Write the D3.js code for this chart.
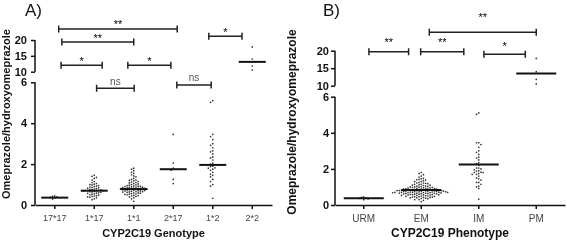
<!DOCTYPE html>
<html>
<head>
<meta charset="utf-8">
<script src="https://cdn.jsdelivr.net/npm/d3@7"></script>
<style>
  body { margin: 0; background: #fff; }
  svg { font-family: "Liberation Sans", Arial, sans-serif; will-change: transform; }
</style>
</head>
<body>
<script>
var W = 567, H = 240;

// categories
var genotypes = ["17*17", "1*17", "1*1", "2*17", "1*2", "2*2"];
var phenotypes = ["URM", "EM", "IM", "PM"];

// omeprazole/hydroxyomeprazole ratios per genotype
var g1717 = [0.45, 0.42, 0.4, 0.37, 0.34, 0.29];
var g117 = [1.45, 1.4, 1.35, 1.3, 1.22, 1.15, 1.1, 1.05, 1.02, 1.0, 0.98, 0.95, 0.92, 0.9, 0.88, 0.86,
    0.84, 0.82, 0.8, 0.78, 0.77, 0.75, 0.74, 0.72, 0.71, 0.7, 0.7, 0.69, 0.68, 0.66, 0.65, 0.64,
    0.62, 0.6, 0.58, 0.57, 0.55, 0.53, 0.5, 0.48, 0.46, 0.44, 0.42, 0.4, 0.38, 0.35, 0.3, 0.26];
var g11 = [1.8, 1.75, 1.68, 1.6, 1.55, 1.48, 1.42, 1.38, 1.3, 1.25, 1.22, 1.2, 1.18, 1.15, 1.12, 1.1,
    1.08, 1.05, 1.03, 1.0, 0.99, 0.97, 0.95, 0.94, 0.92, 0.91, 0.9, 0.89, 0.88, 0.87, 0.86, 0.85,
    0.84, 0.83, 0.82, 0.81, 0.8, 0.8, 0.79, 0.78, 0.78, 0.77, 0.76, 0.75, 0.74, 0.73, 0.72, 0.71,
    0.7, 0.69, 0.68, 0.67, 0.66, 0.65, 0.64, 0.63, 0.62, 0.6, 0.59, 0.58, 0.56, 0.55, 0.53, 0.52,
    0.5, 0.48, 0.46, 0.44, 0.42, 0.4, 0.36, 0.3, 0.18];
var g217 = [3.45, 2.05, 1.8, 1.7, 1.25, 1.05];
var g12 = [5.1, 5.02, 3.45, 3.35, 3.2, 3.0, 2.92, 2.8, 2.65, 2.6, 2.5, 2.35, 2.3, 2.2, 2.05, 2.0,
    1.95, 1.9, 1.88, 1.82, 1.8, 1.75, 1.7, 1.6, 1.5, 1.45, 1.38, 1.25, 1.15, 1.0, 0.92, 0.33];
var g22 = [17.8, 14.0, 11.8, 10.5];

var genoValues = [g1717, g117, g11, g217, g12, g22];
var phenoValues = [g1717, g117.concat(g11), g217.concat(g12), g22];

var genoMedians = [0.36, 0.70, 0.78, 1.75, 1.96, 13.1];
var phenoMedians = [0.375, 0.83, 2.24, 13.5];

// axis ticks
var loTicks = [0, 2, 4, 6];
var hiTicks = [10, 15, 20];

// significance brackets: category positions (fractional index), level, label level
var genoBrackets = [
    {a: 0.1, b: 3.1, seg: "hi", v: 23.47, lv: 25.58, t: "**"},
    {a: 0.18, b: 2.0, seg: "hi", v: 19.37, lv: 21.26, t: "**"},
    {a: 3.9, b: 4.74, seg: "hi", v: 21.17, lv: 23.15, t: "*"},
    {a: 0.16, b: 1.2, seg: "hi", v: 12.02, lv: 13.91, t: "*"},
    {a: 1.85, b: 2.94, seg: "hi", v: 12.02, lv: 13.91, t: "*"},
    {a: 1.06, b: 2.01, seg: "lo", v: 5.71, lv: 6.03, t: "ns"},
    {a: 3.09, b: 3.96, seg: "lo", v: 5.87, lv: 6.22, t: "ns"}
];
var phenoBrackets = [
    {a: 1.14, b: 3.0, seg: "hi", v: 25.26, lv: 30.3, t: "**"},
    {a: 0.09, b: 0.78, seg: "hi", v: 19.71, lv: 23.06, t: "**"},
    {a: 0.99, b: 1.74, seg: "hi", v: 19.71, lv: 23.06, t: "**"},
    {a: 2.09, b: 2.81, seg: "hi", v: 18.97, lv: 21.91, t: "*"}
];

var svg = d3.select("body").append("svg")
    .attr("width", W)
    .attr("height", H);

function drawPanel(p) {
    var g = svg.append("g");

    var x = d3.scaleBand().domain(p.cats).range([p.x0, p.x1]);
    var xi = d3.scaleLinear().domain([0, 1]).range([x(p.cats[0]) + x.bandwidth() / 2, x(p.cats[1]) + x.bandwidth() / 2]);
    var lo = d3.scaleLinear().domain([0, 6]).range([p.y0, p.loTop]);
    var hi = d3.scaleLinear().domain([10, 20]).range([p.hiBottom, p.hiTop]);
    var yv = function(v) { return v >= 8 ? hi(v) : lo(v); };

    // axes (broken y axis: two segments)
    var axLo = g.append("g").attr("transform", "translate(" + p.x0 + ",0)")
        .call(d3.axisLeft(lo).tickValues(loTicks).tickFormat(d3.format("d"))
            .tickSize(4).tickPadding(p.tp).tickSizeOuter(0));
    var axHi = g.append("g").attr("transform", "translate(" + p.x0 + ",0)")
        .call(d3.axisLeft(hi).tickValues(hiTicks).tickFormat(d3.format("d"))
            .tickSize(4).tickPadding(p.tp).tickSizeOuter(0));
    [axLo, axHi].forEach(function(a) {
        a.selectAll("line").attr("stroke", "#111").attr("stroke-width", 1.5);
        a.selectAll("text").attr("font-size", p.yfs).attr("font-weight", "bold").attr("fill", "#111");
        a.select(".domain").remove();
    });
    g.append("line").attr("x1", p.x0).attr("x2", p.x0).attr("y1", lo(0)).attr("y2", lo(6))
        .attr("stroke", "#111").attr("stroke-width", 1.5);
    g.append("line").attr("x1", p.x0).attr("x2", p.x0).attr("y1", hi(10)).attr("y2", hi(20))
        .attr("stroke", "#111").attr("stroke-width", 1.5);

    var axX = g.append("g").attr("transform", "translate(0," + p.y0 + ")")
        .call(d3.axisBottom(x).tickSize(4).tickPadding(6).tickSizeOuter(0));
    axX.selectAll("path, line").attr("stroke", "#111").attr("stroke-width", 1.5);
    axX.selectAll("text").attr("font-size", p.xfs).attr("fill", "#444");

    // dots, beeswarm
    var d = p.dot;
    p.values.forEach(function(vals, ci) {
        var cx = x(p.cats[ci]) + x.bandwidth() / 2;
        var pts = vals.map(function(v) { return {y: yv(v)}; })
            .sort(function(a, b) { return a.y - b.y; });
        var placed = [];
        pts.forEach(function(pt) {
            for (var k = 0; k < 60; k++) {
                var off = (k % 2 === 0 ? 1 : -1) * Math.ceil(k / 2) * d;
                var ok = placed.every(function(q) {
                    var dx = q.x - off, dy = q.y - pt.y;
                    return dx * dx + dy * dy >= d * d;
                });
                if (ok) { pt.x = off; break; }
            }
            placed.push(pt);
        });
        g.selectAll(null).data(pts).enter().append("circle")
            .attr("cx", function(q) { return cx + q.x; })
            .attr("cy", function(q) { return q.y; })
            .attr("r", 0.85)
            .attr("fill", "#333");

        g.append("line")
            .attr("x1", cx - p.medW / 2).attr("x2", cx + p.medW / 2)
            .attr("y1", yv(p.medians[ci])).attr("y2", yv(p.medians[ci]))
            .attr("stroke", "#111").attr("stroke-width", 2);
    });

    // brackets
    p.brackets.forEach(function(b) {
        var s = b.seg === "hi" ? hi : lo;
        var xa = xi(b.a), xb = xi(b.b), yy = s(b.v);
        g.append("path")
            .attr("d", "M" + xa + "," + (yy - 3.5) + "V" + (yy + 3.5) + "M" + xa + "," + yy + "H" + xb +
                "M" + xb + "," + (yy - 3.5) + "V" + (yy + 3.5))
            .attr("fill", "none").attr("stroke", "#222").attr("stroke-width", 1.5);
        var ly = s(b.lv);
        g.append("text")
            .attr("x", (xa + xb) / 2)
            .attr("y", ly + (b.t === "ns" ? 3 : 6))
            .attr("text-anchor", "middle")
            .attr("font-size", b.t === "ns" ? 10 : 11)
            .attr("fill", b.t === "ns" ? "#555" : "#000")
            .text(b.t);
    });

    // titles
    g.append("text").attr("x", p.labX).attr("y", 16).attr("font-size", 17).attr("fill", "#111").text(p.label);
    g.append("text").attr("x", (p.x0 + p.x1) / 2).attr("y", 237).attr("text-anchor", "middle")
        .attr("font-size", p.tfs).attr("font-weight", "bold").attr("fill", "#111").text(p.xTitle);
    g.append("text").attr("transform", "translate(" + p.ytX + "," + p.ytY + ") rotate(-90)")
        .attr("text-anchor", "middle").attr("font-size", p.tfs).attr("font-weight", "bold")
        .attr("fill", "#111").text("Omeprazole/hydroxyomeprazole");
}

drawPanel({
    cats: genotypes, values: genoValues, medians: genoMedians, brackets: genoBrackets,
    x0: 35, x1: 272, y0: 205, loTop: 82.3, hiBottom: 71.7, hiTop: 40,
    tp: 4, yfs: 11, xfs: 9, tfs: 11, dot: 2.2, medW: 27,
    label: "A)", labX: 25, xTitle: "CYP2C19 Genotype", ytX: 10, ytY: 114
});

drawPanel({
    cats: phenotypes, values: phenoValues, medians: phenoMedians, brackets: phenoBrackets,
    x0: 335, x1: 565, y0: 205, loTop: 96.7, hiBottom: 85.7, hiTop: 50.7,
    tp: 2, yfs: 11, xfs: 10, tfs: 12, dot: 2.2, medW: 40,
    label: "B)", labX: 323, xTitle: "CYP2C19 Phenotype", ytX: 296, ytY: 122
});
</script>
</body>
</html>
